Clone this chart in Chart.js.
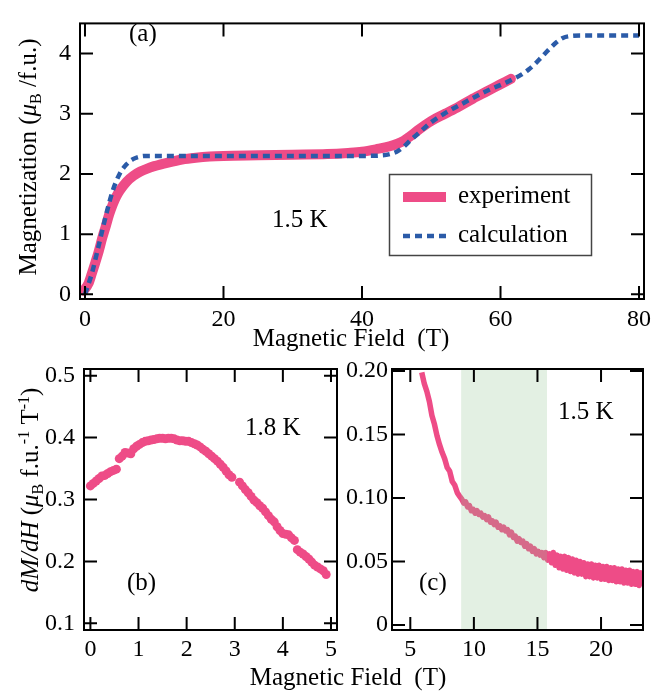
<!DOCTYPE html>
<html><head><meta charset="utf-8">
<script src="https://cdn.jsdelivr.net/npm/chart.js@4.4.0/dist/chart.umd.min.js"></script>
<style>
html,body{margin:0;padding:0;background:#fff;}
#wrap{position:relative;width:665px;height:692px;overflow:hidden;background:#fff;}
canvas{position:absolute;left:0;top:0;}
</style></head><body>
<div id="wrap">
<canvas id="ca" width="665" height="692"></canvas>
<canvas id="cb" width="665" height="692"></canvas>
<canvas id="cc" width="665" height="692"></canvas>
</div>
<script>
// ---------- data ----------
const expField = [-0.2,0.5,1.0,1.5,2.0,2.5,3.0,3.5,4.0,4.5,5.0,6.0,7.0,8.0,9.0,10.0,12.0,14.0,16.0,18.0,20.0,25.0,30.0,35.0,38.0,40.0,42.0,44.0,46.0,47.0,48.0,50.0,52.0,54.0,56.0,58.0,60.0,61.5];
const expMag   = [0.06,0.18,0.35,0.53,0.72,0.94,1.13,1.33,1.49,1.62,1.72,1.87,1.97,2.04,2.09,2.13,2.19,2.24,2.27,2.29,2.30,2.31,2.32,2.33,2.35,2.37,2.41,2.46,2.55,2.63,2.72,2.88,3.00,3.12,3.25,3.37,3.49,3.58];
const calcField = [0,1,2,3,4,5,6,7,8,9,10,20,30,40,43,44,45,46,47,48,50,52,55,58,61,63,64,65,66,67,68,69,70,72,80];
const calcMag   = [0.00,0.35,0.82,1.30,1.72,2.00,2.16,2.25,2.29,2.30,2.30,2.30,2.30,2.30,2.31,2.33,2.37,2.45,2.56,2.66,2.86,3.01,3.20,3.38,3.53,3.65,3.73,3.83,3.95,4.07,4.18,4.26,4.29,4.30,4.30];

const lowField = [0.00,0.06,0.12,0.18,0.24,0.30,0.36,0.42,0.48,0.54,0.60,0.66,0.72,0.78,0.84,0.90,0.96,1.02,1.08,1.14,1.20,1.26,1.32,1.38,1.44,1.50,1.56,1.62,1.68,1.74,1.80,1.86,1.92,1.98,2.04,2.10,2.16,2.22,2.28,2.34,2.40,2.46,2.52,2.58,2.64,2.70,2.76,2.82,2.88,2.94,3.10,3.16,3.22,3.28,3.34,3.40,3.46,3.52,3.58,3.64,3.70,3.76,3.82,3.88,3.94,4.00,4.06,4.12,4.18,4.24,4.30,4.36,4.42,4.48,4.54,4.60,4.66,4.72,4.78,4.84,4.90];
const lowDmdh  = [0.322,0.326,0.330,0.334,0.338,0.339,0.342,0.345,0.347,0.349,0.366,0.370,0.376,0.375,0.374,0.382,0.386,0.389,0.392,0.394,0.395,0.396,0.397,0.398,0.399,0.399,0.398,0.399,0.399,0.398,0.396,0.395,0.395,0.394,0.394,0.392,0.390,0.388,0.385,0.381,0.378,0.374,0.370,0.366,0.362,0.357,0.352,0.346,0.340,0.336,0.328,0.322,0.316,0.311,0.305,0.299,0.295,0.290,0.286,0.280,0.274,0.268,0.264,0.256,0.250,0.245,0.244,0.243,0.238,0.234,0.219,0.215,0.212,0.208,0.204,0.199,0.194,0.191,0.188,0.185,0.179];

const highField = [5.9,6.1,6.3,6.5,6.7,6.9,7.1,7.3,7.5,7.7,7.9,8.1,8.3,8.5,8.7,8.9,
  9.05,9.20,9.35,9.50,9.65,9.80,9.95,10.10,10.25,10.40,10.55,10.70,10.85,11.00,11.15,11.30,11.45,11.60,11.75,11.90,
  12.05,12.20,12.35,12.50,12.65,12.80,12.95,13.10,13.25,13.40,13.55,13.70,13.85,14.00,14.15,14.30,14.45,14.60,14.75,14.90,
  15.05,15.20,15.35,15.50,15.65,15.80,15.95,16.10,16.25,16.40,16.55,16.70,16.85,17.00,17.15,17.30,17.45,17.60,17.75,17.90,
  18.05,18.20,18.35,18.50,18.65,18.80,18.95,19.10,19.25,19.40,19.55,19.70,19.85,20.00,20.15,20.30,20.45,20.60,20.75,20.90,
  21.05,21.20,21.35,21.50,21.65,21.80,21.95,22.10,22.25,22.40,22.55,22.70,22.85,23.00,23.15,23.30];
const highDmdh  = [0.199,0.190,0.184,0.176,0.165,0.158,0.149,0.142,0.136,0.131,0.124,0.121,0.113,0.110,0.104,0.101,
  0.099,0.096,0.097,0.093,0.094,0.090,0.091,0.088,0.090,0.087,0.088,0.085,0.086,0.083,0.085,0.081,0.082,0.079,0.081,0.077,
  0.078,0.075,0.077,0.074,0.075,0.071,0.073,0.069,0.070,0.066,0.068,0.065,0.066,0.062,0.064,0.060,0.062,0.058,0.060,0.056,
  0.058,0.055,0.057,0.053,0.057,0.051,0.056,0.049,0.057,0.047,0.055,0.045,0.054,0.044,0.054,0.043,0.053,0.042,0.052,0.041,
  0.051,0.040,0.050,0.040,0.049,0.038,0.048,0.038,0.048,0.037,0.047,0.037,0.047,0.036,0.046,0.036,0.046,0.035,0.045,0.035,
  0.045,0.034,0.044,0.034,0.044,0.033,0.043,0.033,0.043,0.032,0.042,0.032,0.042,0.031,0.041,0.033];
const bandRange = [9.0, 15.75];

const aXTicks = [0,20,40,60,80];        const aXLabels = ['0','20','40','60','80'];
const aYTicks = [0,1,2,3,4];            const aYLabels = ['0','1','2','3','4'];
const bXTicks = [0,1,2,3,4,5];          const bXLabels = ['0','1','2','3','4','5'];
const bYTicks = [0.1,0.2,0.3,0.4,0.5];  const bYLabels = ['0.1','0.2','0.3','0.4','0.5'];
const cXTicks = [5,10,15,20];           const cXLabels = ['5','10','15','20'];
const cYTicks = [0,0.05,0.10,0.15,0.20];const cYLabels = ['0','0.05','0.10','0.15','0.20'];

const seriesNames = ['experiment','calculation'];

// ---------- styling ----------
const PINK = '#ee4c87';
const BLUE = '#2b5ba8';
const SERIF = "'Liberation Serif','Times New Roman',serif";
Chart.defaults.font.family = SERIF;
Chart.defaults.font.size = 24;
Chart.defaults.color = '#000';

function pts(xs, ys){ return xs.map((x,i)=>({x:x, y:ys[i]})); }

function axes(xr, yr, xt, xl, yt, yl, xPad, yPad){
  return {
    x: {type:'linear', position:'bottom', min:xr[0], max:xr[1],
        grid:{display:false, drawTicks:false}, border:{display:false},
        afterBuildTicks: s => { s.ticks = xt.map(v=>({value:v})); },
        afterFit: s => { s.height = 40; },
        ticks:{padding:xPad, autoSkip:false, maxRotation:0, minRotation:0, callback:(v,i)=>xl[i]}},
    y: {type:'linear', position:'left', min:yr[0], max:yr[1],
        grid:{display:false, drawTicks:false}, border:{display:false},
        afterBuildTicks: s => { s.ticks = yt.map(v=>({value:v})); },
        afterFit: s => { s.width = 50; },
        ticks:{padding:yPad, autoSkip:false, callback:(v,i)=>yl[i]}}
  };
}

const framePlugin = {
  id:'frame',
  afterDraw(chart){
    const {ctx, chartArea:a, scales} = chart;
    const L = 13;
    ctx.save();
    ctx.strokeStyle = '#000'; ctx.lineWidth = 2; ctx.lineCap = 'butt';
    ctx.beginPath();
    scales.x.ticks.forEach(t=>{
      const p = scales.x.getPixelForValue(t.value);
      ctx.moveTo(p, a.bottom); ctx.lineTo(p, a.bottom-L);
      ctx.moveTo(p, a.top); ctx.lineTo(p, a.top+L);
    });
    scales.y.ticks.forEach(t=>{
      const p = scales.y.getPixelForValue(t.value);
      ctx.moveTo(a.left, p); ctx.lineTo(a.left+L, p);
      ctx.moveTo(a.right, p); ctx.lineTo(a.right-L, p);
    });
    ctx.stroke();
    ctx.strokeRect(a.left, a.top, a.right-a.left, a.bottom-a.top);
    ctx.restore();
  }
};

function fontStr(p){ return (p.it?'italic ':'') + (p.s||25) + 'px ' + SERIF; }
function drawRich(ctx, parts, cx, by, rot){
  ctx.save();
  ctx.translate(cx, by);
  if (rot) ctx.rotate(-Math.PI/2);
  ctx.textBaseline = 'alphabetic'; ctx.textAlign = 'left'; ctx.fillStyle = '#000';
  let w = 0;
  parts.forEach(p=>{ ctx.font = fontStr(p); p.w = ctx.measureText(p.t).width; w += p.w; });
  let x = -w/2;
  parts.forEach(p=>{ ctx.font = fontStr(p); ctx.fillText(p.t, x, p.dy||0); x += p.w; });
  ctx.restore();
}
function txt(ctx, t, x, y){
  ctx.save(); ctx.font = '25px ' + SERIF; ctx.fillStyle = '#000';
  ctx.textAlign = 'left'; ctx.textBaseline = 'middle'; ctx.fillText(t, x, y); ctx.restore();
}

const panelAText = {
  id:'panelAText',
  afterDraw(chart){
    const ctx = chart.ctx;
    txt(ctx, '(a)', 129, 34);
    txt(ctx, '1.5 K', 272, 220);
    // legend
    ctx.save();
    ctx.strokeStyle = '#444'; ctx.lineWidth = 1.5;
    ctx.strokeRect(389.5, 174.5, 202, 81);
    const ds = chart.data.datasets;
    ctx.lineCap = 'butt';
    ctx.strokeStyle = ds[0].borderColor; ctx.lineWidth = ds[0].borderWidth;
    ctx.beginPath(); ctx.moveTo(403, 197); ctx.lineTo(446, 197); ctx.stroke();
    ctx.strokeStyle = ds[1].borderColor; ctx.lineWidth = ds[1].borderWidth;
    ctx.setLineDash(ds[1].borderDash);
    ctx.beginPath(); ctx.moveTo(403, 236); ctx.lineTo(446, 236); ctx.stroke();
    ctx.restore();
    txt(ctx, ds[0].label, 458, 196);
    txt(ctx, ds[1].label, 458, 235);
    // axis titles
    drawRich(ctx, [{t:'Magnetization ('},{t:'μ',it:true},{t:'B',s:16,dy:5},{t:' /f.u.)'}], 36, 157, true);
    drawRich(ctx, [{t:'Magnetic Field  (T)'}], 351, 346, false);
  }
};

const panelBText = {
  id:'panelBText',
  afterDraw(chart){
    const ctx = chart.ctx;
    txt(ctx, '1.8 K', 245, 428);
    txt(ctx, '(b)', 127, 583);
    drawRich(ctx, [{t:'dM/dH',it:true},{t:' ('},{t:'μ',it:true},{t:'B',s:16,dy:5},{t:' f.u.'},{t:'-1',s:16,dy:-9},{t:' T'},{t:'-1',s:16,dy:-9},{t:')'}], 38, 490, true);
    drawRich(ctx, [{t:'Magnetic Field  (T)'}], 348, 685, false);
  }
};

const panelCText = {
  id:'panelCText',
  afterDatasetsDraw(chart){
    const {ctx, chartArea:a, scales} = chart;
    const x0 = scales.x.getPixelForValue(bandRange[0]);
    const x1 = scales.x.getPixelForValue(bandRange[1]);
    ctx.save();
    ctx.fillStyle = 'rgba(143,195,143,0.25)';
    ctx.fillRect(x0, a.top, x1-x0, a.bottom-a.top);
    ctx.restore();
  },
  afterDraw(chart){
    const ctx = chart.ctx;
    txt(ctx, '1.5 K', 558, 412);
    txt(ctx, '(c)', 419, 583);
  }
};

const common = {responsive:false, animation:false, devicePixelRatio:1,
  plugins:{legend:{display:false}, tooltip:{enabled:false}}, events:[]};

new Chart(document.getElementById('ca'), {
  type:'scatter',
  data:{datasets:[
    {label:seriesNames[0], data:pts(expField, expMag), showLine:true, borderColor:PINK, borderWidth:10,
     pointRadius:0, cubicInterpolationMode:'monotone', borderCapStyle:'round', order:2},
    {label:seriesNames[1], data:pts(calcField, calcMag), showLine:true, borderColor:BLUE, borderWidth:4.5,
     borderDash:[7,5], pointRadius:0, cubicInterpolationMode:'monotone', order:1}
  ]},
  options:Object.assign({}, common, {
    layout:{padding:{left:30, top:7, right:21, bottom:353}},
    scales:axes([-0.72,80.72],[-0.078,4.502], aXTicks, aXLabels, aYTicks, aYLabels, 6, 9)
  }),
  plugins:[framePlugin, panelAText]
});

new Chart(document.getElementById('cb'), {
  type:'scatter',
  data:{datasets:[
    {label:'1.8 K', data:pts(lowField, lowDmdh), showLine:false, pointRadius:4.5, pointBorderWidth:0,
     pointBackgroundColor:PINK, backgroundColor:PINK, borderColor:PINK}
  ]},
  options:Object.assign({}, common, {
    layout:{padding:{left:34, top:369, right:328, bottom:22}},
    scales:axes([-0.133,5.125],[0.0893,0.5108], bXTicks, bXLabels, bYTicks, bYLabels, 5, 9)
  }),
  plugins:[framePlugin, panelBText]
});

new Chart(document.getElementById('cc'), {
  type:'scatter',
  data:{datasets:[
    {label:'1.5 K', data:pts(highField, highDmdh), showLine:true, borderColor:PINK, borderWidth:5.5,
     pointRadius:0, tension:0, borderJoinStyle:'round', borderCapStyle:'butt'}
  ]},
  options:Object.assign({}, common, {
    layout:{padding:{left:342, top:369, right:22, bottom:22}},
    scales:axes([3.56,23.3],[-0.004,0.2016], cXTicks, cXLabels, cYTicks, cYLabels, 5, 4)
  }),
  plugins:[framePlugin, panelCText]
});
</script>
</body></html>
